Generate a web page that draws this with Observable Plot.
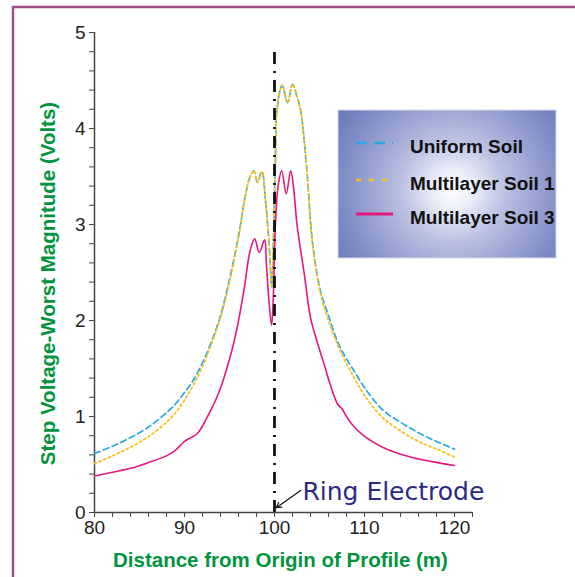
<!DOCTYPE html>
<html><head><meta charset="utf-8">
<script src="https://cdn.jsdelivr.net/npm/d3@7"></script>
<script src="https://cdn.jsdelivr.net/npm/@observablehq/plot@0.6"></script>
<style>body{margin:0;background:#fff;} svg{display:block;}</style>
</head><body><div id="chart"></div>
<script>
// ---- Data ----
const distance = [80, 82, 84, 86, 88, 89, 90, 91, 92, 93, 94, 95, 96, 96.8, 97.3, 97.7, 98.1, 98.6, 99.0, 99.4, 99.7, 99.9, 100.1, 100.3, 100.85, 101.45, 102.0, 102.5, 102.9, 103.6, 104.2, 105.1, 106, 107, 108, 109, 110, 112, 114, 116, 118, 120];
const uniformSoil = [0.615, 0.69, 0.78, 0.89, 1.04, 1.13, 1.25, 1.38, 1.56, 1.78, 2.05, 2.43, 2.88, 3.32, 3.50, 3.56, 3.44, 3.55, 3.25, 2.80, 2.35, 2.90, 3.67, 4.22, 4.45, 4.27, 4.46, 4.33, 4.19, 3.56, 2.83, 2.31, 2.05, 1.78, 1.60, 1.45, 1.30, 1.07, 0.94, 0.83, 0.74, 0.66];
const multilayerSoil1 = [0.51, 0.59, 0.68, 0.79, 0.94, 1.04, 1.17, 1.33, 1.52, 1.76, 2.03, 2.40, 2.86, 3.32, 3.50, 3.56, 3.44, 3.55, 3.25, 2.80, 2.35, 2.90, 3.67, 4.22, 4.45, 4.27, 4.46, 4.33, 4.19, 3.56, 2.82, 2.28, 2.00, 1.75, 1.55, 1.38, 1.22, 0.99, 0.85, 0.74, 0.66, 0.58];
const distance3 = [80, 82, 84, 86, 88, 89, 90, 90.7, 91.4, 92, 92.5, 93, 93.6, 94.2, 94.7, 95.3, 95.9, 96.6, 97.3, 97.8, 98.3, 98.9, 99.1, 99.3, 99.67, 99.85, 100.1, 100.4, 100.8, 101.3, 101.8, 102.1, 102.5, 103.3, 104.0, 104.7, 105.5, 106.2, 107, 107.5, 108, 108.6, 109.9, 112, 115, 117.5, 120];
const multilayerSoil3 = [0.38, 0.42, 0.46, 0.52, 0.59, 0.65, 0.74, 0.78, 0.82, 0.90, 0.99, 1.08, 1.20, 1.35, 1.50, 1.70, 1.95, 2.31, 2.73, 2.85, 2.71, 2.84, 2.59, 2.31, 1.95, 2.20, 3.00, 3.40, 3.56, 3.32, 3.56, 3.40, 3.00, 2.49, 2.03, 1.79, 1.55, 1.33, 1.13, 1.08, 1.00, 0.92, 0.80, 0.68, 0.58, 0.53, 0.49];
const seriesNames = ["Uniform Soil", "Multilayer Soil 1", "Multilayer Soil 3"];
const xTicks = [80, 90, 100, 110, 120];
const xMinorTicks = d3.range(80, 122.001, 2);
const yTicks = [0, 1, 2, 3, 4, 5];
const yMinorTicks = d3.range(0, 26).map(i => i / 5);
const electrodePosition = [100];
const xTitle = "Distance from Origin of Profile (m)";
const yTitle = "Step Voltage-Worst Magnitude (Volts)";
const annotationText = "Ring Electrode";

// ---- Styles ----
const colors = ["#29a9e1", "#f5c21b", "#e3197d"];
const dashes = ["6,3.5", "2,3", null];
const green = "#00953d";

const toRows = (xs, ys) => xs.map((x, i) => ({x, y: ys[i]}));
const uniformRows = toRows(distance, uniformSoil);
const ml1Rows = toRows(distance, multilayerSoil1);
const ml3Rows = toRows(distance3, multilayerSoil3);

const chart = Plot.plot({
  width: 575, height: 577,
  marginLeft: 94, marginRight: 103, marginTop: 32, marginBottom: 65,
  x: {domain: [80, 122]},
  y: {domain: [0, 5]},
  style: {fontFamily: "'Liberation Sans', Arial, sans-serif", background: "transparent", color: "#222", overflow: "visible"},
  marks: [
    Plot.axisX(xMinorTicks, {tickSize: 5, tickPadding: 3, fontSize: 19, stroke: "#444", label: null,
      tickFormat: d => xTicks.includes(d) ? String(d) : ""}),
    Plot.axisY(yMinorTicks, {tickSize: 5, tickPadding: 4, fontSize: 19, stroke: "#444", label: null,
      tickFormat: d => yTicks.includes(d) ? String(d) : ""}),
    Plot.ruleX([80], {y1: 0, y2: 5, stroke: "#444", strokeWidth: 1.5}),
    Plot.ruleY([0], {x1: 80, x2: 122, stroke: "#444", strokeWidth: 1.5}),
    Plot.line(uniformRows, {x: "x", y: "y", stroke: colors[0], strokeWidth: 1.7, strokeDasharray: dashes[0], curve: "catmull-rom"}),
    Plot.line(ml1Rows, {x: "x", y: "y", stroke: colors[1], strokeWidth: 1.8, strokeDasharray: dashes[1], curve: "catmull-rom"}),
    Plot.line(ml3Rows, {x: "x", y: "y", stroke: colors[2], strokeWidth: 1.6, curve: "catmull-rom"}),
    Plot.ruleX(electrodePosition, {y1: 0, y2: 4.85, stroke: "#111", strokeWidth: 2.8, strokeDasharray: "12,7,2,7"}),
    Plot.arrow([annotationText], {x1: 102.9, y1: 0.23, x2: 100.2, y2: 0.05, stroke: "#111", strokeWidth: 1.2, headLength: 7}),
    Plot.text([annotationText], {x: 103.1, y: 0.21, text: d => d, textAnchor: "start", lineAnchor: "middle", fontSize: 25, fontFamily: "'DejaVu Sans', sans-serif", fill: "#2c2a84"}),
    Plot.text([xTitle], {frameAnchor: "bottom", text: d => d, textAnchor: "middle", lineAnchor: "middle", dx: -3, dy: 48, fontSize: 20.5, fontWeight: "bold", fill: green}),
    Plot.text([yTitle], {frameAnchor: "left", text: d => d, textAnchor: "middle", lineAnchor: "middle", rotate: -90, dx: -46, dy: 11, fontSize: 20.5, fontWeight: "bold", fill: green})
  ]
});

// ---- Frame and legend ----
const svg = d3.select(chart);
const defs = svg.insert("defs", ":first-child");
const grad = defs.append("radialGradient").attr("id", "legendGrad")
  .attr("gradientUnits", "userSpaceOnUse").attr("cx", 453).attr("cy", 190).attr("r", 150);
[[0, "#ffffff"], [0.12, "#eef0fa"], [0.35, "#b9c0e2"], [0.7, "#8590c8"], [1, "#6070b2"]]
  .forEach(([o, c]) => grad.append("stop").attr("offset", o).attr("stop-color", c));

svg.append("path").attr("d", "M13,580V7H580").attr("fill", "none").attr("stroke", "#9e4f8c").attr("stroke-width", 2.5);

const lg = svg.append("g").attr("text-anchor", "start");
lg.append("rect").attr("x", 338).attr("y", 110).attr("width", 218).attr("height", 148)
  .attr("fill", "url(#legendGrad)").attr("stroke", "#d6d9e8").attr("stroke-width", 1);
const legendY = [146, 183, 217];
seriesNames.forEach((name, i) => {
  const y = legendY[i];
  lg.append("line").attr("x1", 356).attr("x2", 393).attr("y1", y - 3).attr("y2", y - 3)
    .attr("stroke", colors[i]).attr("stroke-width", i === 2 ? 3 : 2.6)
    .attr("stroke-dasharray", i === 0 ? "11,7" : i === 1 ? "5,8" : null);
  lg.append("text").attr("x", 410).attr("y", y).attr("dy", "0.35em").attr("text-anchor", "start")
    .attr("font-family", "'Liberation Sans', Arial, sans-serif").attr("font-weight", "bold")
    .attr("font-size", 19).attr("fill", "#111").text(name);
});

document.getElementById("chart").appendChild(chart);
</script>
</body></html>
